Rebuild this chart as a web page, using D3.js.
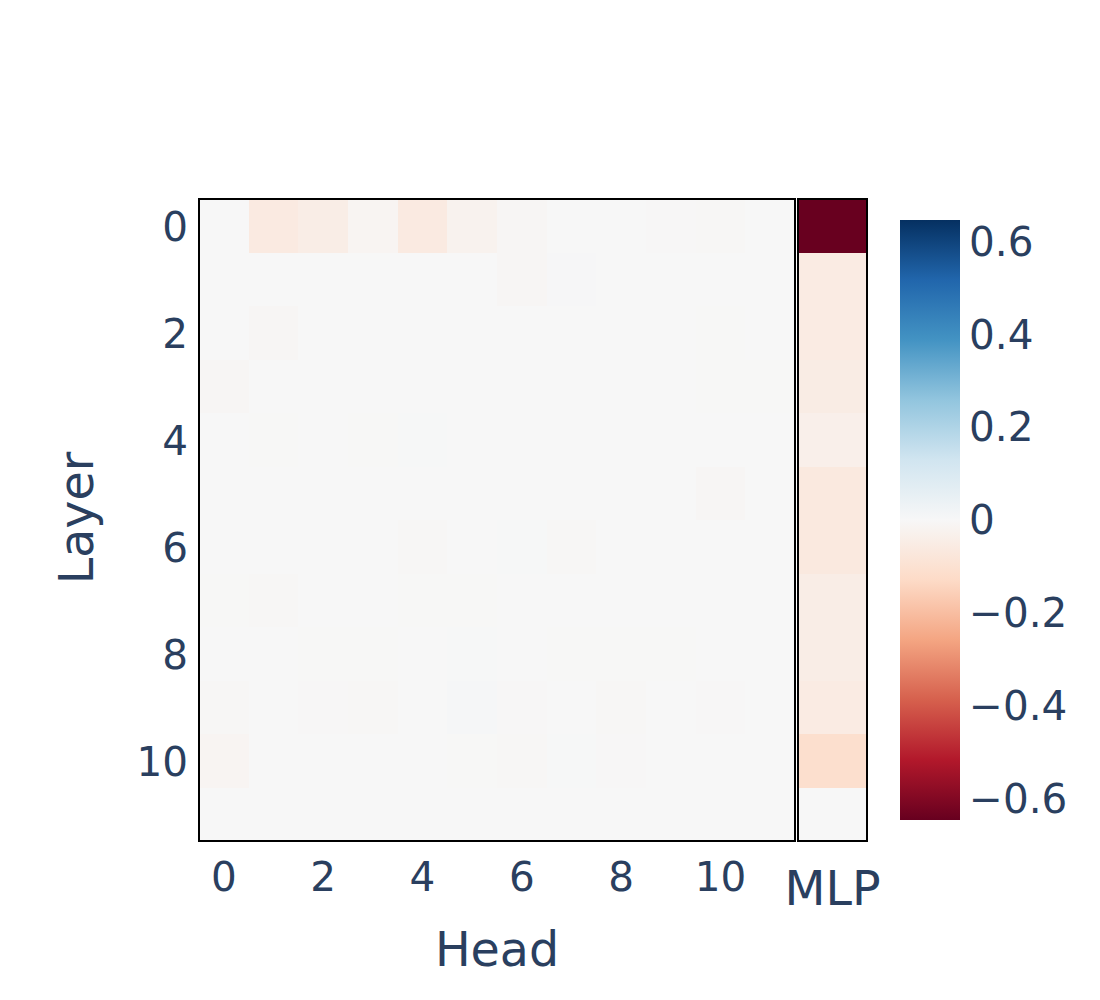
<!DOCTYPE html>
<html><head><meta charset="utf-8">
<script src="https://cdn.jsdelivr.net/npm/d3@7"></script>
<style>
body{margin:0;background:#fff}
text{font-family:"DejaVu Sans",Verdana,sans-serif;fill:#2a3f5f}
</style>
</head><body>
<svg id="c" width="1100" height="1000"></svg>
<script>
const layers = [0,1,2,3,4,5,6,7,8,9,10,11];
const heads = [0,1,2,3,4,5,6,7,8,9,10,11];
const headTicks = [0,2,4,6,8,10];
const layerTicks = [0,2,4,6,8,10];
const colorbarTicks = [0.6,0.4,0.2,0,-0.2,-0.4,-0.6];
const mlpLabel = ["MLP"];
// rows = layers, columns = heads
const headValues = [
  [0, -0.06, -0.045, -0.014, -0.06, -0.024, -0.007, 0, 0, -0.003, -0.005, 0],
  [0, 0, 0, 0, 0, 0, -0.008, 0.004, 0, 0, 0, 0],
  [0, -0.008, 0, 0, 0, 0, 0, 0, 0, 0, -0.002, 0],
  [-0.008, 0, 0, 0, 0, 0, 0, 0, 0, 0, -0.002, -0.002],
  [0, -0.002, 0, -0.002, 0.002, 0, 0, 0, 0, 0, 0, 0],
  [0, 0, 0, 0, 0, 0, 0, 0, 0, 0, -0.008, 0],
  [0, 0, 0, 0, -0.006, 0, 0.003, -0.006, 0, 0, 0, 0],
  [-0.002, -0.005, 0, 0, -0.002, -0.002, 0, 0, 0, 0, 0, 0],
  [0, 0, -0.002, -0.002, 0, 0.003, 0, -0.002, -0.002, -0.002, 0, 0],
  [-0.005, 0, -0.004, -0.006, 0, 0.006, -0.003, 0, -0.006, 0, -0.004, 0],
  [-0.013, 0, 0, 0, 0, -0.002, -0.005, 0.002, -0.004, 0, 0, 0],
  [0, 0, 0, 0, 0, 0, 0, 0, 0, 0, 0, 0]
];
const mlpValues = [-0.645, -0.055, -0.055, -0.05, -0.035, -0.065, -0.065, -0.045, -0.045, -0.055, -0.11, 0];
const zmax = 0.646;
const rdbu = ['rgb(103,0,31)','rgb(178,24,43)','rgb(214,96,77)','rgb(244,165,130)','rgb(253,219,199)',
  'rgb(247,247,247)','rgb(209,229,240)','rgb(146,197,222)','rgb(67,147,195)','rgb(33,102,172)','rgb(5,48,97)'];

const svg = d3.select("#c");
const x = d3.scaleBand().domain(heads).range([199, 795]);
const y = d3.scaleBand().domain(layers).range([199, 841]);
const xm = d3.scaleBand().domain(mlpLabel).range([798, 867]);
const color = d3.scaleLinear()
  .domain(rdbu.map((_, i) => -zmax + i * 2 * zmax / (rdbu.length - 1)))
  .range(rdbu).interpolate(d3.interpolateRgb).clamp(true);

const cells = [];
headValues.forEach((row, li) => row.forEach((v, hi) => cells.push({l: layers[li], h: heads[hi], v})));
svg.append("g").selectAll("rect").data(cells).join("rect")
  .attr("x", d => x(d.h)).attr("y", d => y(d.l))
  .attr("width", x.bandwidth() + 0.5).attr("height", y.bandwidth() + 0.5)
  .attr("fill", d => color(d.v)).attr("shape-rendering", "crispEdges");

svg.append("g").selectAll("rect").data(mlpValues.map((v, i) => ({l: layers[i], v}))).join("rect")
  .attr("x", xm("MLP")).attr("y", d => y(d.l))
  .attr("width", xm.bandwidth()).attr("height", y.bandwidth() + 0.5)
  .attr("fill", d => color(d.v)).attr("shape-rendering", "crispEdges");

// borders
svg.append("rect").attr("x", 199).attr("y", 199).attr("width", 596).attr("height", 642)
  .attr("fill", "none").attr("stroke", "#000").attr("stroke-width", 2);
svg.append("rect").attr("x", 798).attr("y", 199).attr("width", 69).attr("height", 642)
  .attr("fill", "none").attr("stroke", "#000").attr("stroke-width", 2);

const tickFont = 40.5, titleFont = 47.5;
function styleAxis(g, fs) {
  g.select(".domain").remove();
  g.selectAll("line").remove();
  g.selectAll("text").attr("font-size", fs).attr("fill", "#2a3f5f")
    .style("font-family", '"DejaVu Sans",Verdana,sans-serif');
}

const xAxis = svg.append("g").attr("transform", "translate(0,841)")
  .call(d3.axisBottom(x).tickValues(headTicks).tickSize(0).tickPadding(21));
styleAxis(xAxis, tickFont);

const yAxis = svg.append("g").attr("transform", "translate(199,0)")
  .call(d3.axisLeft(y).tickValues(layerTicks).tickSize(0).tickPadding(11));
styleAxis(yAxis, tickFont);
yAxis.selectAll("text").attr("dy", "0.37em");

const mAxis = svg.append("g").attr("transform", "translate(0,841)")
  .call(d3.axisBottom(xm).tickSize(0).tickPadding(30));
styleAxis(mAxis, titleFont);

svg.append("text").attr("x", 497).attr("y", 966).attr("text-anchor", "middle")
  .attr("font-size", titleFont).text("Head");
svg.append("text").attr("transform", "translate(93,518) rotate(-90)").attr("text-anchor", "middle")
  .attr("font-size", titleFont).text("Layer");

// colorbar
const cb = d3.scaleLinear().domain([-zmax, zmax]).range([820, 220]);
const defs = svg.append("defs");
const grad = defs.append("linearGradient").attr("id", "cbg")
  .attr("x1", 0).attr("y1", 1).attr("x2", 0).attr("y2", 0);
grad.selectAll("stop").data(rdbu).join("stop")
  .attr("offset", (d, i) => i / (rdbu.length - 1)).attr("stop-color", d => d);
svg.append("rect").attr("x", 900).attr("y", 220).attr("width", 60).attr("height", 600)
  .attr("fill", "url(#cbg)");
const cAxis = svg.append("g").attr("transform", "translate(960,0)")
  .call(d3.axisRight(cb).tickValues(colorbarTicks).tickSize(0).tickPadding(9)
    .tickFormat(d => d === 0 ? "0" : d3.format(".1f")(d)));
styleAxis(cAxis, tickFont);
cAxis.selectAll("text").attr("dy", "0.34em");
</script>
</body></html>
